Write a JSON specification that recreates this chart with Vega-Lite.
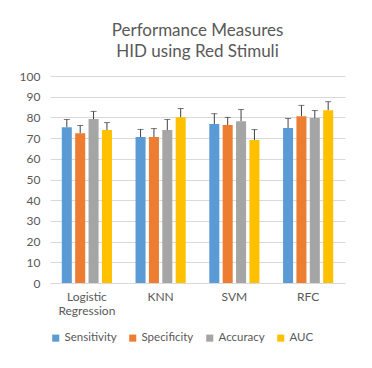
{
  "$schema": "https://vega.github.io/schema/vega-lite/v6.json",
  "autosize": "none",
  "width": 295,
  "height": 207,
  "padding": {"left": 50, "top": 76, "right": 27, "bottom": 85},
  "background": "white",
  "title": {
    "text": ["Performance Measures", "HID using Red Stimuli"],
    "font": "Lato",
    "fontSize": 17,
    "fontWeight": "normal",
    "color": "#595959",
    "anchor": "middle",
    "lineHeight": 21,
    "offset": 9
  },
  "data": {
    "values": [
      {"model": "Logistic Regression", "measure": "Sensitivity", "value": 75.3, "upper": 79.0},
      {"model": "Logistic Regression", "measure": "Specificity", "value": 72.4, "upper": 76.1},
      {"model": "Logistic Regression", "measure": "Accuracy", "value": 79.2, "upper": 82.9},
      {"model": "Logistic Regression", "measure": "AUC", "value": 73.9, "upper": 77.5},
      {"model": "KNN", "measure": "Sensitivity", "value": 70.5, "upper": 74.2},
      {"model": "KNN", "measure": "Specificity", "value": 70.5, "upper": 74.6},
      {"model": "KNN", "measure": "Accuracy", "value": 73.9, "upper": 79.0},
      {"model": "KNN", "measure": "AUC", "value": 80.1, "upper": 84.3},
      {"model": "SVM", "measure": "Sensitivity", "value": 76.8, "upper": 81.8},
      {"model": "SVM", "measure": "Specificity", "value": 76.3, "upper": 80.0},
      {"model": "SVM", "measure": "Accuracy", "value": 78.2, "upper": 83.8},
      {"model": "SVM", "measure": "AUC", "value": 69.1, "upper": 74.1},
      {"model": "RFC", "measure": "Sensitivity", "value": 74.9, "upper": 79.5},
      {"model": "RFC", "measure": "Specificity", "value": 80.6, "upper": 85.8},
      {"model": "RFC", "measure": "Accuracy", "value": 79.7, "upper": 83.3},
      {"model": "RFC", "measure": "AUC", "value": 83.5, "upper": 87.6}
    ]
  },
  "encoding": {
    "x": {
      "field": "model",
      "type": "nominal",
      "sort": ["Logistic Regression", "KNN", "SVM", "RFC"],
      "scale": {"paddingInner": 0.32, "paddingOuter": 0.16},
      "axis": {
        "title": null,
        "labelAngle": 0,
        "labelFont": "Lato",
        "labelFontSize": 12,
        "labelColor": "#595959",
        "labelPadding": 8,
        "labelLineHeight": 14,
        "ticks": false,
        "domainColor": "#D9D9D9",
        "labelExpr": "datum.label == 'Logistic Regression' ? ['Logistic', 'Regression'] : datum.label"
      }
    },
    "xOffset": {
      "field": "measure",
      "type": "nominal",
      "sort": ["Sensitivity", "Specificity", "Accuracy", "AUC"],
      "scale": {"paddingInner": 0.25, "paddingOuter": 0}
    },
    "y": {
      "field": "value",
      "type": "quantitative",
      "scale": {"domain": [0, 100], "nice": false},
      "axis": {
        "title": null,
        "values": [0, 10, 20, 30, 40, 50, 60, 70, 80, 90, 100],
        "tickCount": 11,
        "labelOverlap": false,
        "labelFont": "Lato",
        "labelFontSize": 12,
        "labelColor": "#595959",
        "labelPadding": 10,
        "domain": false,
        "ticks": false,
        "gridColor": "#D9D9D9"
      }
    }
  },
  "layer": [
    {
      "mark": {"type": "bar"},
      "encoding": {
        "color": {
          "field": "measure",
          "type": "nominal",
          "sort": ["Sensitivity", "Specificity", "Accuracy", "AUC"],
          "scale": {"range": ["#5B9BD5", "#ED7D31", "#A5A5A5", "#FFC000"]},
          "legend": {
            "title": null,
            "orient": "bottom",
            "direction": "horizontal",
            "symbolType": "square",
            "symbolSize": 50,
            "symbolStrokeWidth": 0,
            "labelFont": "Lato",
            "labelFontSize": 11.5,
            "labelColor": "#595959",
            "columnPadding": 10,
            "labelOffset": 3,
            "offset": 16
          }
        }
      }
    },
    {
      "mark": {"type": "rule", "color": "#404040", "strokeWidth": 1},
      "encoding": {
        "y2": {"field": "upper"}
      }
    },
    {
      "mark": {"type": "tick", "color": "#404040", "thickness": 1, "size": 6, "orient": "horizontal"},
      "encoding": {
        "y": {"field": "upper", "type": "quantitative"}
      }
    }
  ],
  "config": {
    "view": {"stroke": null},
    "axisY": {"tickCount": 11, "labelOverlap": false}
  }
}
